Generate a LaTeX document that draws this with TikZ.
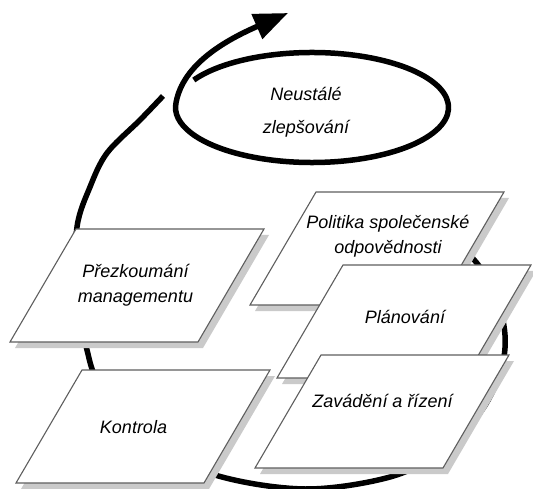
\documentclass[tikz,border=0pt]{standalone}
\usepackage{fontspec}
\setmainfont{Liberation Sans}
\usetikzlibrary{arrows.meta}
\definecolor{boxline}{HTML}{5E5E5E}
\definecolor{shadowgray}{HTML}{CACACA}
\tikzset{
  pbox/.style={draw=boxline, fill=white, line width=1.1pt, line join=miter},
  pshadow/.style={fill=shadowgray, draw=none},
  lbl/.style={font=\itshape\fontsize{18}{25}\selectfont, align=center, inner sep=0pt},
  elbl/.style={font=\itshape\fontsize{18}{33}\selectfont, align=center, inner sep=0pt},
  thick loop/.style={line width=5.5pt, draw=black, line cap=butt},
}
\newcommand{\pgram}[2]{%
  \fill[pshadow] ({#1+5},{#2+6}) -- ++(188,0) -- ++(-66,113) -- ++(-188,0) -- cycle;
  \draw[pbox] (#1,#2) -- ++(188,0) -- ++(-66,113) -- ++(-188,0) -- cycle;
}
\begin{document}
\begin{tikzpicture}[x=1pt,y=-1pt]
\useasboundingbox (0,0) rectangle (533,489);
% big spiral behind boxes
\draw[thick loop] plot[smooth, tension=0.55] coordinates {
  (452,240) (476,262) (496,295) (505,335) (501,370) (482,410) (445,450)
  (390,477) (305,489) (215,475) (144,440) (100,385) (87,350) (76,290)
  (77,227) (90,187) (107,153) (140,120) (163,96)};
% loop with arrow
\draw[thick loop, -{Triangle[length=34pt,width=26pt]}]
  (193.8,80) arc[start angle=210, end angle=545, x radius=136.5, y radius=55]
  .. controls (183,64) and (226,40) .. (288,13);
\node[elbl] (improve) at (306,112) {Neustálé\\zlepšování};
% boxes
\pgram{76}{229}
\node[lbl] (review) at (135.5,285) {Přezkoumání\\managementu};
\pgram{82}{370}
\node[lbl] (control) at (133.5,427) {Kontrola};
\pgram{316}{192}
\node[lbl] (policy) at (388,236) {Politika společenské\\odpovědnosti};
\pgram{343}{265}
\node[lbl] (plan) at (405,317) {Plánování};
\pgram{321}{355}
\node[lbl] (impl) at (382.5,401) {Zavádění a řízení};
\end{tikzpicture}
\end{document}
